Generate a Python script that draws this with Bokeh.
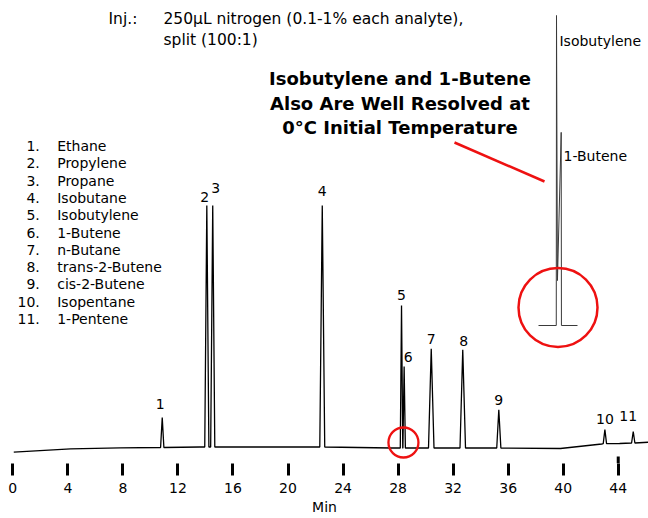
from bokeh.plotting import figure
from bokeh.models import Range1d, FixedTicker
from bokeh.core.properties import value
from bokeh.embed import file_html
from bokeh.resources import INLINE

# ---------------- data ----------------
compounds = ["Ethane", "Propylene", "Propane", "Isobutane", "Isobutylene", "1-Butene",
             "n-Butane", "trans-2-Butene", "cis-2-Butene", "Isopentane", "1-Pentene"]
peak_numbers = ["1", "2", "3", "4", "5", "6", "7", "8", "9", "10", "11"]
peak_times = [10.86, 14.10, 14.53, 22.49, 28.25, 28.44, 30.41, 32.70, 35.32, 43.03, 45.09]   # min
peak_heights = [46, 258, 258, 258, 158, 97, 114.7, 113.7, 53.7, 34, 32]                       # signal
peak_bases = [16, 16.5, 16.5, 16.5, 15.5, 15.5, 15.5, 15.5, 15.5, 19.8, 20.5]
peak_halfwidths = [0.12, 0.15, 0.15, 0.18, 0.09, 0.09, 0.2, 0.2, 0.15, 0.12, 0.12]

baseline_times = [0.07, 4.2, 7.8, 13.6, 20.2, 27.5, 39.8, 42.8, 44.1, 46.2]
baseline_signal = [11.3, 14.7, 15.7, 16.5, 16.5, 15.5, 15.0, 19.5, 20.0, 21.3]

tick_values = [0, 4, 8, 12, 16, 20, 24, 28, 32, 36, 40, 44]

# inset: isobutylene / 1-butene at 0 C initial temperature
inset_times = [20.667, 21.045, 21.05, 21.07, 21.15, 21.155, 21.497]
inset_signal = [0, 0, 100, 14.5, 62.3, 0, 0]
inset_names = ["Isobutylene", "1-Butene"]

# ---------------- styles / layout ----------------
FONT = "DejaVu Sans"
PX_PER_MIN = 13.76
label_dx = [-2, -2, 3, 0, 0, 4, 0, 1, 0, 0, -5]          # px
label_dy = [14, 9, 18, 15, 11, 10, 10, 9, 10, 11, 16]    # px above peak top

# build the trace from baseline knots and peak vertices
pts = list(zip(baseline_times, baseline_signal))
for t, h, b, w in zip(peak_times, peak_heights, peak_bases, peak_halfwidths):
    pts += [(t - w, b), (t, h), (t + w, b)]
pts.sort(key=lambda q: q[0])
trace_t = [q[0] for q in pts]
trace_s = [q[1] for q in pts]

p = figure(width=648, height=518,
           x_range=Range1d(-0.894, 46.199), y_range=Range1d(0, 463),
           toolbar_location=None, output_backend="svg",
           min_border_left=0, min_border_right=0, min_border_top=0, min_border_bottom=55,
           y_axis_location=None, outline_line_color=None)
p.xgrid.grid_line_color = None
p.ygrid.grid_line_color = None
p.extra_x_ranges = {"inset": Range1d(9.2202, 23.0074)}
p.extra_y_ranges = {"inset": Range1d(-44.516, 104.839)}

# axis
ax = p.xaxis[0]
ax.ticker = FixedTicker(ticks=tick_values)
ax.axis_line_color = None
ax.major_tick_line_width = 3
ax.major_tick_line_color = "black"
ax.major_tick_in = 0
ax.major_tick_out = 12
ax.minor_tick_line_color = None
ax.major_label_text_font = FONT
ax.major_label_text_font_size = "14px"
ax.major_label_text_color = "black"
ax.major_label_standoff = 7
ax.axis_label = "Min"
ax.axis_label_text_font = FONT
ax.axis_label_text_font_size = "14px"
ax.axis_label_text_font_style = "normal"
ax.axis_label_text_color = "black"
ax.axis_label_standoff = 3
# longer tick at 44
p.segment(x0=[tick_values[-1]], x1=[tick_values[-1]], y0=[0], y1=[7],
          line_color="black", line_width=3)

# chromatogram
p.line(trace_t, trace_s, line_color="black", line_width=1.3)

# inset chromatogram
p.line(inset_times, inset_signal, line_color="#3a3a3a", line_width=1,
       x_range_name="inset", y_range_name="inset")

# red highlights
p.scatter(x=[28.39], y=[21], size=30, marker="circle", fill_color=None,
          line_color="#ee1111", line_width=2.3)
p.scatter(x=[21.082], y=[5.8], size=79, marker="circle", fill_color=None,
          line_color="#ee1111", line_width=2.5, x_range_name="inset", y_range_name="inset")
p.segment(x0=[32.10], y0=[321], x1=[38.64], y1=[282], line_color="#ee1111", line_width=2.5)

# peak numbers
p.text(x=[t + dx / PX_PER_MIN for t, dx in zip(peak_times, label_dx)],
       y=[h + dy for h, dy in zip(peak_heights, label_dy)],
       text=peak_numbers, text_align="center", text_baseline="middle",
       text_font=value(FONT), text_font_size="14px", text_color="black")

# legend list
leg_y = [463 - (145.7 + 17.26 * i) for i in range(len(compounds))]
p.text(x=[1.962] * len(compounds), y=leg_y, text=[n + "." for n in peak_numbers],
       text_align="right", text_baseline="middle",
       text_font=value(FONT), text_font_size="14px", text_color="black")
p.text(x=[3.227] * len(compounds), y=leg_y, text=compounds,
       text_align="left", text_baseline="middle",
       text_font=value(FONT), text_font_size="14px", text_color="black")

# injection notes
p.text(x=[6.955, 10.95, 10.95], y=[445, 445, 424],
       text=["Inj.:", "250µL nitrogen (0.1-1% each analyte),", "split (100:1)"],
       text_align="left", text_baseline="middle",
       text_font=value(FONT), text_font_size="15.5px", text_color="black")

# callout
p.text(x=[28.14] * 3, y=[385, 360, 336],
       text=["Isobutylene and 1-Butene", "Also Are Well Resolved at", "0°C Initial Temperature"],
       text_align="center", text_baseline="middle", text_font_style="bold",
       text_font=value(FONT), text_font_size="18px", text_color="black")

# inset labels
p.text(x=[39.73, 40.02], y=[423, 308], text=inset_names,
       text_align="left", text_baseline="middle",
       text_font=value(FONT), text_font_size="14px", text_color="black")

open("out.html", "w").write(file_html(p, INLINE))
